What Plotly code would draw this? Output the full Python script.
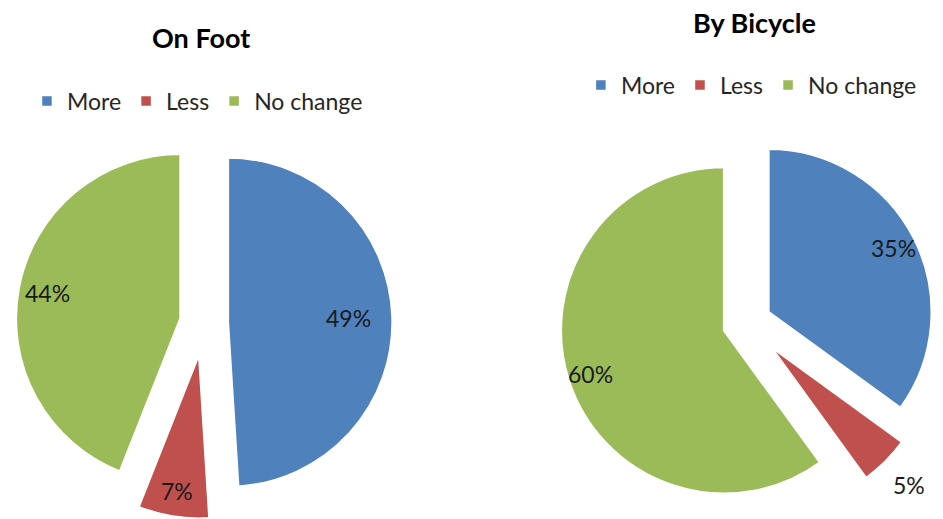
import math
import plotly.graph_objects as go

categories = ["More", "Less", "No change"]
on_foot = [49, 7, 44]
by_bicycle = [35, 5, 60]
titles = ["On Foot", "By Bicycle"]
colors = ["#4F81BD", "#C0504D", "#9BBB59"]

W, H = 943, 519
FONT = "Lato"

# layout / style settings
pies = [
    dict(values=on_foot, labels=categories, pull=[0.145, 0.19, 0.145],
         domx=[0.00848, 0.42418], domy=[0.0, 0.7553], legend="legend",
         label_k=[0.73, 0.84, 0.82]),
    dict(values=by_bicycle, labels=[c + "\u200b" for c in categories], pull=[0.147, 0.2, 0.147],
         domx=[0.5843, 1.0], domy=[0.0, 0.7553], legend="legend2",
         label_k=[0.86, 1.2, 0.86]),
]

fig = go.Figure()
label_annotations = []

for p in pies:
    fig.add_trace(go.Pie(
        labels=p["labels"], values=p["values"], sort=False, direction="clockwise", rotation=0,
        pull=p["pull"],
        marker=dict(colors=colors, line=dict(color="white", width=2.5)),
        textinfo="none",
        domain=dict(x=p["domx"], y=p["domy"]),
        legend=p["legend"], hoverinfo="label+percent",
    ))
    # geometry mirroring plotly's pie layout, used to place Excel-style data labels
    w = W * (p["domx"][1] - p["domx"][0])
    h = H * (p["domy"][1] - p["domy"][0])
    r = min(w, h) / 2 / (1 + max(p["pull"]))
    cx = W * (p["domx"][0] + p["domx"][1]) / 2
    cy = H * (1 - p["domy"][0]) - h / 2
    total = sum(p["values"])
    cum = 0
    for i, v in enumerate(p["values"]):
        mid = 2 * math.pi * (cum + v / 2) / total
        cum += v
        dist = (p["pull"][i] + p["label_k"][i]) * r
        x = cx + dist * math.sin(mid)
        y = cy - dist * math.cos(mid)
        label_annotations.append(dict(
            text="%d%%" % v, x=x / W, y=1 - y / H, xref="paper", yref="paper",
            showarrow=False, xanchor="center", yanchor="middle",
            font=dict(family=FONT, size=23, color="#1a1a1a")))

legend_common = dict(orientation="h", font=dict(family=FONT, size=23, color="#262626"),
                     bgcolor="rgba(0,0,0,0)", xanchor="left", yanchor="middle",
                     traceorder="normal")
fig.update_layout(
    width=W, height=H,
    margin=dict(l=0, r=0, t=0, b=0),
    paper_bgcolor="white", plot_bgcolor="white",
    showlegend=True,
    legend=dict(x=0.0286, y=0.8054, **legend_common),
    legend2=dict(x=0.616, y=0.8362, **legend_common),
    annotations=[
        dict(text="<b>%s</b>" % titles[0], x=0.2131, y=0.9268, xref="paper", yref="paper",
             showarrow=False, font=dict(family=FONT, size=27, color="black"),
             xanchor="center", yanchor="middle"),
        dict(text="<b>%s</b>" % titles[1], x=0.8006, y=0.9576, xref="paper", yref="paper",
             showarrow=False, font=dict(family=FONT, size=27, color="black"),
             xanchor="center", yanchor="middle"),
    ] + label_annotations,
)

fig.write_html("out.html")
